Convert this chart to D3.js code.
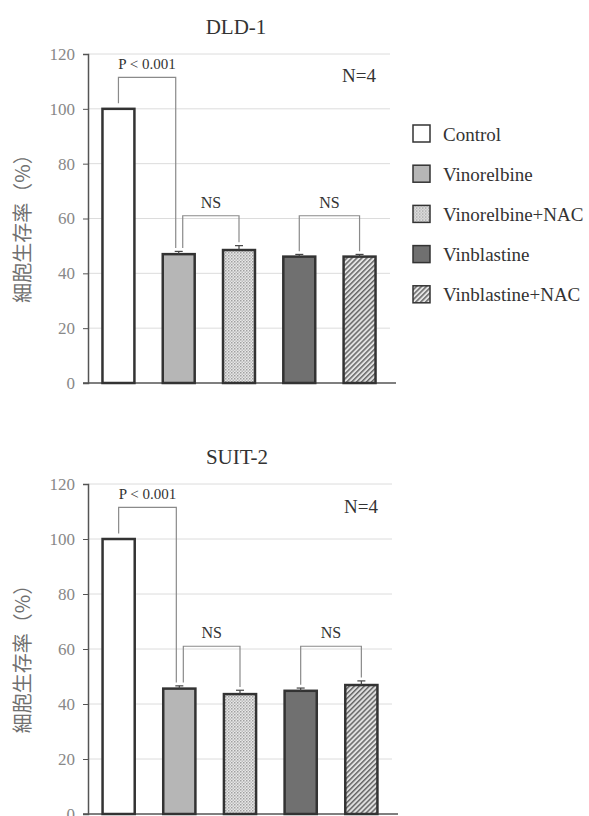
<!DOCTYPE html>
<html>
<head>
<meta charset="utf-8">
<script src="https://cdn.jsdelivr.net/npm/d3@7"></script>
<style>
  body { margin: 0; background: #fff; }
  svg { display: block; }
</style>
</head>
<body>
<svg id="chart" width="589" height="816"></svg>
<script>
const categories = ['Control', 'Vinorelbine', 'Vinorelbine+NAC', 'Vinblastine', 'Vinblastine+NAC'];
const yTicks = [0, 20, 40, 60, 80, 100, 120];

// DLD-1
const dldMeans = [100, 47.0, 48.5, 46.1, 46.1];
const dldErrors = [0, 1.0, 1.6, 0.8, 0.8];

// SUIT-2
const suitMeans = [100, 45.6, 43.6, 44.8, 46.9];
const suitErrors = [0, 1.0, 1.4, 1.0, 1.5];

// brackets: category pairs, label, bracket height (in %)
const brackets = [
  { from: 0, to: 1, label: 'P < 0.001', level: 111.5 },
  { from: 1, to: 2, label: 'NS', level: 61 },
  { from: 3, to: 4, label: 'NS', level: 61 }
];

const svg = d3.select('#chart');
const serif = "'Liberation Serif', 'Times New Roman', serif";

// patterns
const defs = svg.append('defs');
const dots = defs.append('pattern')
  .attr('id', 'dots')
  .attr('patternUnits', 'userSpaceOnUse')
  .attr('width', 3).attr('height', 3);
dots.append('rect').attr('width', 3).attr('height', 3).attr('fill', '#e8e8e8');
dots.append('rect').attr('width', 1.5).attr('height', 1.5).attr('fill', '#a0a0a0');
dots.append('rect').attr('x', 1.5).attr('y', 1.5).attr('width', 1.5).attr('height', 1.5).attr('fill', '#bdbdbd');

const hatch = defs.append('pattern')
  .attr('id', 'hatch')
  .attr('patternUnits', 'userSpaceOnUse')
  .attr('width', 3.5).attr('height', 3.5)
  .attr('patternTransform', 'rotate(45)');
hatch.append('rect').attr('width', 3.5).attr('height', 3.5).attr('fill', '#e2e2e2');
hatch.append('rect').attr('width', 1.5).attr('height', 3.5).attr('fill', '#666');

const fills = ['#ffffff', '#b6b6b6', 'url(#dots)', '#707070', 'url(#hatch)'];

function drawPanel(cfg) {
  const x = d3.scaleBand()
    .domain(categories)
    .range([cfg.left, cfg.right])
    .paddingInner(0.47)
    .paddingOuter(0.24);

  const y = d3.scaleLinear()
    .domain([0, 120])
    .range([cfg.bottom, cfg.top]);

  const g = svg.append('g');

  // title
  g.append('text')
    .attr('x', (cfg.left + cfg.right) / 2 - 3)
    .attr('y', cfg.top - 20)
    .attr('text-anchor', 'middle')
    .attr('font-family', serif)
    .attr('font-size', 21)
    .attr('fill', '#333')
    .text(cfg.title);

  // gridlines
  g.append('g')
    .selectAll('line')
    .data(yTicks.filter(d => d > 0))
    .enter()
    .append('line')
    .attr('x1', cfg.left)
    .attr('x2', cfg.right)
    .attr('y1', d => y(d))
    .attr('y2', d => y(d))
    .attr('stroke', '#dcdcdc')
    .attr('stroke-width', 1);

  // y axis
  const yAxis = g.append('g')
    .attr('transform', `translate(${cfg.left},0)`)
    .call(d3.axisLeft(y).tickValues(yTicks).tickSize(5).tickPadding(8));
  yAxis.select('.domain').attr('stroke', '#555').attr('stroke-width', 1.5);
  yAxis.selectAll('.tick line').attr('stroke', '#555');
  yAxis.selectAll('.tick text')
    .attr('font-family', serif)
    .attr('font-size', 17)
    .attr('fill', '#888');

  // x axis line
  g.append('line')
    .attr('x1', cfg.left - 5)
    .attr('x2', cfg.right + 6)
    .attr('y1', y(0))
    .attr('y2', y(0))
    .attr('stroke', '#555')
    .attr('stroke-width', 1.5);

  // y label
  g.append('text')
    .attr('transform', `translate(21,${(cfg.top + cfg.bottom) / 2 + 5}) rotate(-90)`)
    .attr('text-anchor', 'middle')
    .attr('dominant-baseline', 'central')
    .attr('font-family', "'Noto Sans CJK JP', sans-serif")
    .attr('font-size', 20)
    .attr('fill', '#707070')
    .text('細胞生存率（%）');

  // bars
  g.append('g')
    .selectAll('rect')
    .data(cfg.means)
    .enter()
    .append('rect')
    .attr('x', (d, i) => x(categories[i]))
    .attr('y', d => y(d))
    .attr('width', x.bandwidth())
    .attr('height', d => y(0) - y(d))
    .attr('fill', (d, i) => fills[i])
    .attr('stroke', '#333')
    .attr('stroke-width', 2.5);

  // error bars
  const err = g.append('g');
  cfg.means.forEach((m, i) => {
    const e = cfg.errors[i];
    if (!e) return;
    const cx = x(categories[i]) + x.bandwidth() / 2;
    err.append('line')
      .attr('x1', cx).attr('x2', cx)
      .attr('y1', y(m)).attr('y2', y(m + e))
      .attr('stroke', '#444').attr('stroke-width', 1.2);
    err.append('line')
      .attr('x1', cx - 4).attr('x2', cx + 4)
      .attr('y1', y(m + e)).attr('y2', y(m + e))
      .attr('stroke', '#444').attr('stroke-width', 1.2);
  });

  // significance brackets
  const legEnd = i => i === 0 ? 102 : cfg.means[i] + cfg.errors[i] + 1.2;
  const legX = (i, b) => {
    const c = x(categories[i]) + x.bandwidth() / 2;
    // the shared bar has two legs next to each other
    if (i === 1 && b.from === 0) return c - 3;
    if (i === 1 && b.from === 1) return c + 4;
    return c;
  };
  const br = g.append('g');
  brackets.forEach(b => {
    const x1 = legX(b.from, b);
    const x2 = legX(b.to, b);
    const yl = y(b.level);
    br.append('path')
      .attr('d', `M${x1},${y(legEnd(b.from))}V${yl}H${x2}V${y(legEnd(b.to))}`)
      .attr('fill', 'none')
      .attr('stroke', '#8a8a8a')
      .attr('stroke-width', 1.2);
    br.append('text')
      .attr('x', (x1 + x2) / 2)
      .attr('y', yl - 8)
      .attr('text-anchor', 'middle')
      .attr('font-family', serif)
      .attr('font-size', b.label === 'NS' ? 16 : 15)
      .attr('fill', '#333')
      .text(b.label);
  });

  // N
  g.append('text')
    .attr('x', cfg.right - 14)
    .attr('y', y(112))
    .attr('text-anchor', 'end')
    .attr('dominant-baseline', 'central')
    .attr('font-family', serif)
    .attr('font-size', 19)
    .attr('fill', '#333')
    .text('N=4');
}

drawPanel({ title: 'DLD-1', means: dldMeans, errors: dldErrors, left: 88, right: 390, top: 54, bottom: 383 });
drawPanel({ title: 'SUIT-2', means: suitMeans, errors: suitErrors, left: 88, right: 392, top: 484, bottom: 814 });

// legend
const legend = svg.append('g').attr('transform', 'translate(413,133)');
const rows = legend.selectAll('g')
  .data(categories)
  .enter()
  .append('g')
  .attr('transform', (d, i) => `translate(0,${i * 40.2})`);
rows.append('rect')
  .attr('x', 0).attr('y', -8)
  .attr('width', 17).attr('height', 17)
  .attr('fill', (d, i) => fills[i])
  .attr('stroke', '#333')
  .attr('stroke-width', 1.5);
rows.append('text')
  .attr('x', 30)
  .attr('y', 1)
  .attr('dominant-baseline', 'central')
  .attr('font-family', serif)
  .attr('font-size', 19)
  .attr('fill', '#333')
  .text(d => d);
</script>
</body>
</html>
